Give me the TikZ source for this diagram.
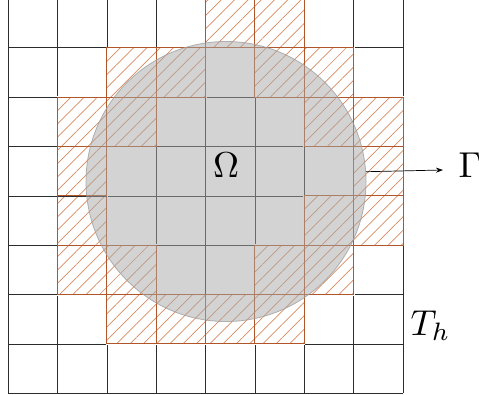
\documentclass[tikz,border=0pt]{standalone}
\usetikzlibrary{patterns.meta,arrows.meta}
\definecolor{gridcol}{RGB}{45,45,45}
\definecolor{edgecol}{RGB}{176,86,40}
\definecolor{hatchcol}{RGB}{214,138,95}
\definecolor{domfill}{RGB}{167,167,167}
\definecolor{domedge}{RGB}{160,160,160}
\tikzset{
  gridline/.style={draw=gridcol, line width=0.8pt},
  hatchcell/.style={pattern={Lines[angle=45,distance=9.4pt,line width=0.7pt]}, pattern color=hatchcol},
  celledge/.style={draw=edgecol, line width=1pt},
  celleraser/.style={draw=white, line width=1.8pt},
  domdisc/.style={circle, minimum size=280pt, inner sep=0pt, fill=domfill, fill opacity=0.5, draw=domedge, draw opacity=0.8, line width=0.8pt},
  lbl/.style={inner sep=0pt, scale=3.6},
}
\begin{document}
\begin{tikzpicture}[x=1pt,y=-1pt]
\useasboundingbox (0,0) rectangle (479,394);
\def\cs{49.35}
\def\xo{8.2}
\def\yo{-1.5}
\def\cells{4/0,5/0, 2/1,3/1,5/1,6/1, 1/2,2/2,6/2,7/2, 1/3,7/3, 1/4,6/4,7/4, 1/5,2/5,5/5,6/5, 2/6,3/6,4/6,5/6}
% grid
\foreach \i in {0,...,8}{
  \draw[gridline] ({\xo+\i*\cs},\yo) -- ({\xo+\i*\cs},{\yo+8*\cs});
  \draw[gridline] (\xo,{\yo+\i*\cs}) -- ({\xo+8*\cs},{\yo+\i*\cs});
}
% hatched cells
\foreach \c/\r in \cells{
  \draw[celleraser] ({\xo+\c*\cs},{\yo+\r*\cs}) rectangle ({\xo+(\c+1)*\cs},{\yo+(\r+1)*\cs});
}
\foreach \c/\r in \cells{
  \fill[hatchcell] ({\xo+\c*\cs},{\yo+\r*\cs}) rectangle ({\xo+(\c+1)*\cs},{\yo+(\r+1)*\cs});
}
\foreach \c/\r in \cells{
  \draw[celledge] ({\xo+\c*\cs},{\yo+\r*\cs}) rectangle ({\xo+(\c+1)*\cs},{\yo+(\r+1)*\cs});
}
\draw[gridline] ({\xo+1*\cs},{\yo+4*\cs}) -- ({\xo+2*\cs},{\yo+4*\cs});
% domain
\node[domdisc] (dom) at (226,181.5) {};
% labels
\node[lbl, anchor=base] (om) at (226,177.7) {$\Omega$};
\node[lbl, anchor=base west] (gam) at (458,177.7) {$\Gamma$};
\node[lbl, anchor=base west] (th) at (410,335) {$T_h$};
\coordinate (tip) at (443,170);
\draw[line width=0.7pt, -{Stealth[length=7pt,width=5pt]}] (dom.4.7) -- (tip);
\end{tikzpicture}
\end{document}
